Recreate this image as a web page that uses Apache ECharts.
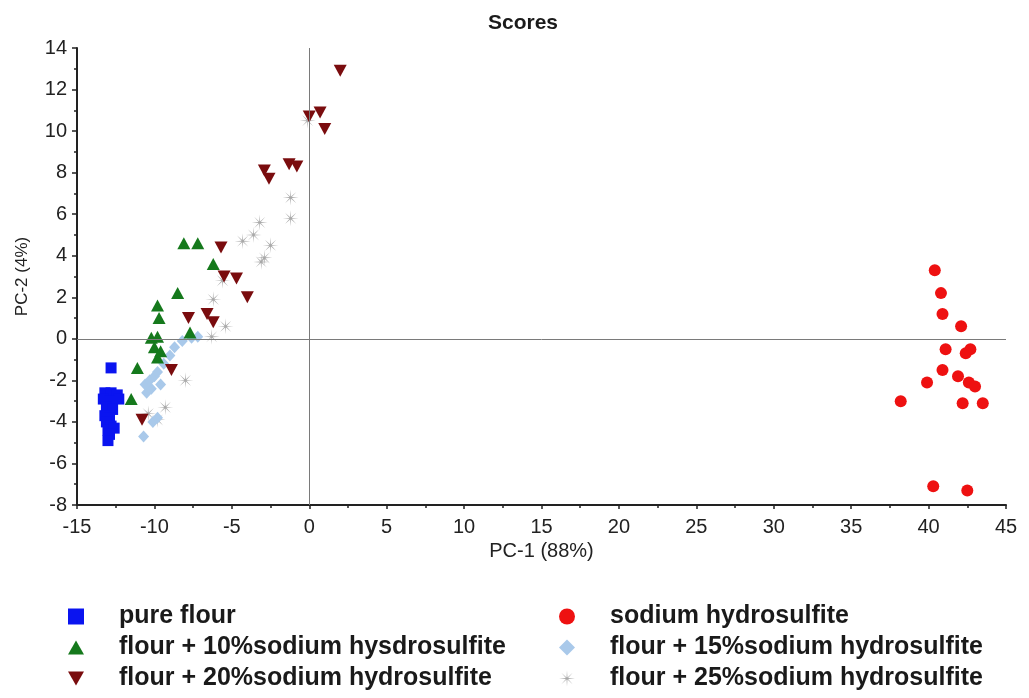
<!DOCTYPE html>
<html>
<head>
<meta charset="utf-8">
<script src="https://cdn.jsdelivr.net/npm/echarts@6/dist/echarts.min.js"></script>
<style>
html,body{margin:0;padding:0;background:#fff;}
#chart{width:1029px;height:698px;}
</style>
</head>
<body>
<div id="chart"></div>
<script>
// ---- data (PC-1, PC-2) ----
const seriesNames = [
  'pure flour',
  'flour + 10%sodium hysdrosulfite',
  'flour + 20%sodium hydrosulfite',
  'sodium hydrosulfite',
  'flour + 15%sodium hydrosulfite',
  'flour + 25%sodium hydrosulfite'
];
const pureFlour = [[-12.8,-1.4],[-13.2,-2.6],[-12.8,-2.6],[-12.4,-2.7],[-12.3,-2.9],[-13.3,-2.9],[-12.9,-3.0],[-13.1,-3.3],[-12.7,-3.4],[-13.2,-3.7],[-12.9,-3.8],[-13.1,-4.0],[-12.8,-4.2],[-13.0,-4.4],[-12.6,-4.3],[-12.9,-4.6],[-13.0,-4.9]];
const flour10 = [[-8.1,4.6],[-7.2,4.6],[-6.2,3.6],[-8.5,2.2],[-9.8,1.6],[-9.7,1.0],[-10.2,0.05],[-9.8,0.1],[-10.0,-0.4],[-9.8,-0.9],[-9.6,-0.6],[-11.1,-1.4],[-11.5,-2.9],[-7.7,0.3]];
const flour20 = [[2.0,12.9],[0.0,10.7],[0.7,10.9],[1.0,10.1],[-2.9,8.1],[-2.6,7.7],[-1.3,8.4],[-0.8,8.3],[-5.7,4.4],[-5.5,3.0],[-4.7,2.9],[-4.0,2.0],[-7.8,1.0],[-6.6,1.2],[-6.2,0.8],[-8.9,-1.5],[-10.8,-3.9]];
const sodium = [[40.4,3.3],[40.8,2.2],[40.9,1.2],[42.1,0.6],[41.1,-0.5],[42.7,-0.5],[42.4,-0.7],[40.9,-1.5],[41.9,-1.8],[42.6,-2.1],[43.0,-2.3],[39.9,-2.1],[38.2,-3.0],[42.2,-3.1],[43.5,-3.1],[40.3,-7.1],[42.5,-7.3]];
const flour15 = [[-10.7,-4.7],[-10.1,-4.0],[-9.8,-3.8],[-10.5,-2.6],[-10.2,-2.4],[-10.6,-2.2],[-10.3,-2.0],[-10.0,-1.8],[-9.8,-1.6],[-9.6,-2.2],[-9.4,-1.2],[-9.0,-0.8],[-8.7,-0.4],[-8.2,-0.1],[-7.6,0.05],[-7.2,0.1]];
const flour25 = [[-0.1,10.5],[-1.2,6.8],[-1.2,5.8],[-3.2,5.6],[-3.6,5.0],[-4.3,4.7],[-2.5,4.5],[-2.9,3.9],[-3.1,3.7],[-5.6,2.8],[-6.2,1.9],[-5.4,0.6],[-6.3,0.1],[-8.0,-2.0],[-9.3,-3.3],[-10.4,-3.6],[-9.8,-3.9]];
const xRange = {min: -15, max: 45, interval: 5};
const yRange = {min: -8, max: 14, interval: 2};
const titleText = 'Scores';
const xName = 'PC-1 (88%)';
const yName = 'PC-2 (4%)';

// ---- symbols ----
function starPath(){
  let pts = [];
  for (let k = 0; k < 16; k++) {
    const a = k * Math.PI / 8;
    const r = (k % 2 === 0) ? 10 : 1.5;
    pts.push((10 + r * Math.cos(a)).toFixed(3) + ',' + (10 + r * Math.sin(a)).toFixed(3));
  }
  return 'path://M' + pts.join('L') + 'Z';
}
const STAR = starPath();
const DOWN = 'path://M0,0L10,0L5,8.66Z';
const UP = 'path://M5,0L10,8.66L0,8.66Z';

const FONT = '"Liberation Sans", Arial, sans-serif';
const colors = {
  pure: '#0a14f0',
  f10: '#15791c',
  f20: '#7a0c0e',
  sod: '#ee1111',
  f15: '#a9c9ea',
  f25: '#a9a9a9'
};

const chart = echarts.init(document.getElementById('chart'), null, {renderer: 'canvas'});

const legendText = {fontFamily: FONT, fontSize: 25, fontWeight: 'bold', color: '#1a1a1a', padding: [0,0,0,30], lineHeight: 24};

function sty(c){ return {color: c, opacity: 1}; }

const option = {
  backgroundColor: '#fff',
  animation: false,
  title: {
    text: titleText, left: 518, top: 8, textAlign: 'center',
    textStyle: {fontFamily: FONT, fontSize: 21, fontWeight: 'bold', color: '#1a1a1a'}
  },
  grid: {left: 77, right: 23, top: 48, bottom: 193, containLabel: false},
  xAxis: {
    type: 'value', min: xRange.min, max: xRange.max, interval: xRange.interval,
    name: xName, nameLocation: 'middle', nameGap: 36,
    nameTextStyle: {fontFamily: FONT, fontSize: 20, color: '#222'},
    axisLine: {onZero: false, lineStyle: {color: '#222', width: 2}},
    axisTick: {show: true, length: 4, inside: false, lineStyle: {color: '#222', width: 1.5}},
    minorTick: {show: true, splitNumber: 2, length: 3, lineStyle: {color: '#222', width: 1.5}},
    axisLabel: {fontFamily: FONT, fontSize: 20, color: '#222', margin: 12},
    splitLine: {show: false}
  },
  yAxis: {
    type: 'value', min: yRange.min, max: yRange.max, interval: yRange.interval,
    name: yName, nameLocation: 'middle', nameGap: 46,
    nameTextStyle: {fontFamily: FONT, fontSize: 17, color: '#222'},
    axisLine: {onZero: false, lineStyle: {color: '#222', width: 2}},
    axisTick: {show: true, length: 5, lineStyle: {color: '#222', width: 1.5}},
    minorTick: {show: true, splitNumber: 2, length: 3, lineStyle: {color: '#222', width: 1.5}},
    axisLabel: {fontFamily: FONT, fontSize: 20, color: '#222', margin: 10},
    splitLine: {show: false}
  },
  legend: [
    {
      orient: 'vertical', left: 63, top: 599, itemWidth: 16, itemHeight: 16, itemGap: 6,
      textStyle: legendText,
      data: [
        {name: seriesNames[0], icon: 'rect'},
        {name: seriesNames[1], icon: UP},
        {name: seriesNames[2], icon: DOWN}
      ]
    },
    {
      orient: 'vertical', left: 554, top: 599, itemWidth: 16, itemHeight: 16, itemGap: 6,
      textStyle: legendText,
      data: [
        {name: seriesNames[3], icon: 'circle'},
        {name: seriesNames[4], icon: 'diamond'},
        {name: seriesNames[5], icon: STAR}
      ]
    }
  ],
  series: [
    {
      type: 'scatter', name: '__axes0', data: [], silent: true,
      markLine: {
        silent: true, symbol: 'none', label: {show: false},
        lineStyle: {color: '#7a7a7a', width: 1, type: 'solid'},
        data: [{xAxis: 0}, {yAxis: 0}]
      }
    },
    {type: 'scatter', name: seriesNames[5], data: flour25, symbol: STAR, symbolSize: 16, itemStyle: sty(colors.f25)},
    {type: 'scatter', name: seriesNames[4], data: flour15, symbol: 'diamond', symbolSize: [11, 12], itemStyle: sty(colors.f15)},
    {type: 'scatter', name: seriesNames[0], data: pureFlour, symbol: 'rect', symbolSize: 11, itemStyle: sty(colors.pure)},
    {type: 'scatter', name: seriesNames[1], data: flour10, symbol: UP, symbolSize: [13, 12], itemStyle: sty(colors.f10)},
    {type: 'scatter', name: seriesNames[2], data: flour20, symbol: DOWN, symbolSize: [13, 12], itemStyle: sty(colors.f20)},
    {type: 'scatter', name: seriesNames[3], data: sodium, symbol: 'circle', symbolSize: 12, itemStyle: sty(colors.sod)}
  ]
};
chart.setOption(option);
</script>
</body>
</html>
